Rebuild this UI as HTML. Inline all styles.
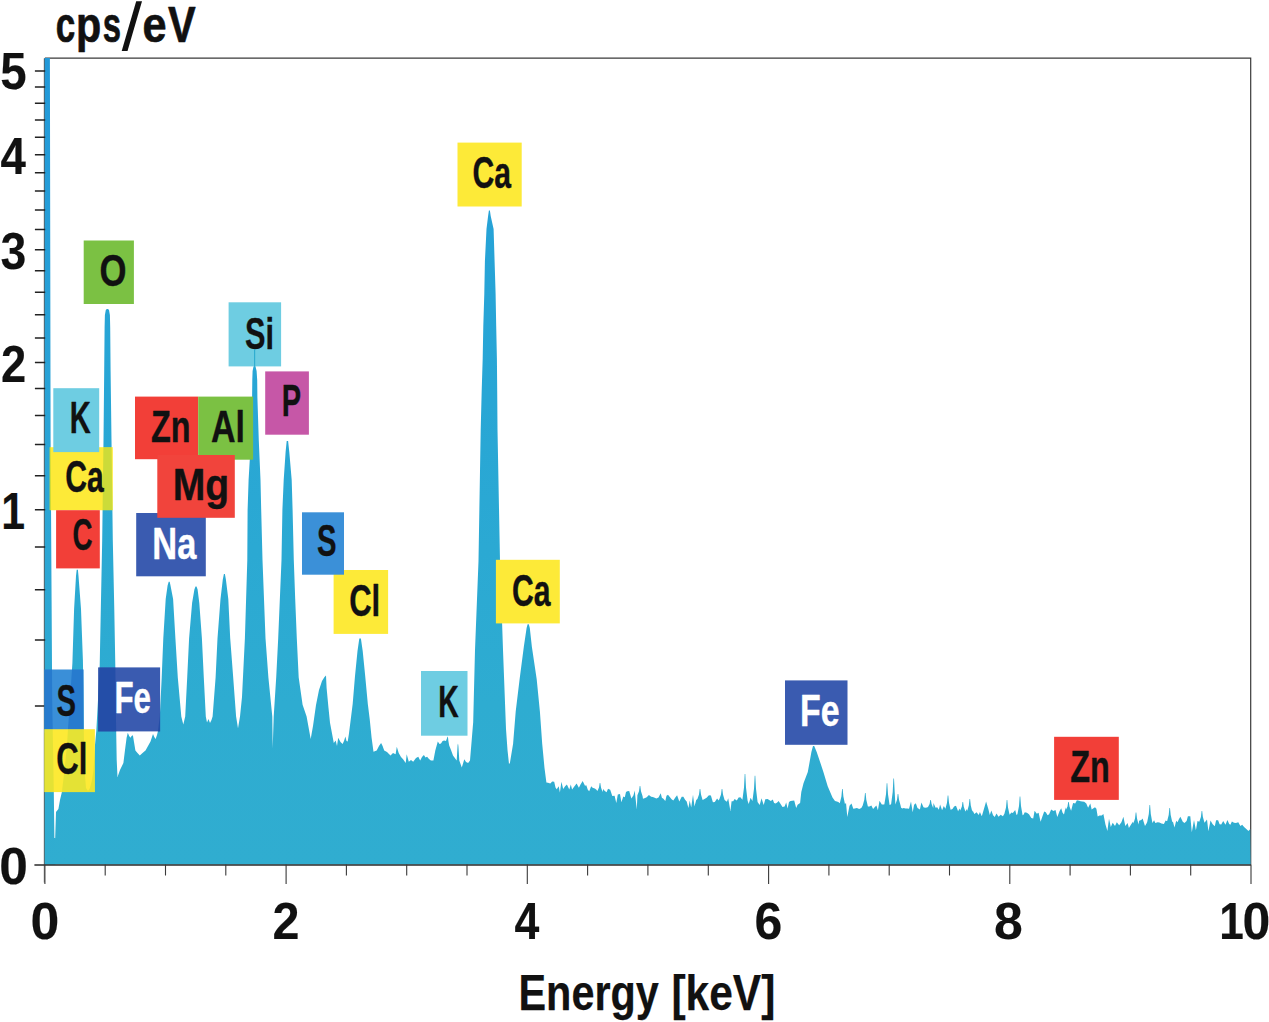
<!DOCTYPE html>
<html><head><meta charset="utf-8"><title>EDS spectrum</title>
<style>
html,body{margin:0;padding:0;background:#fff;}
body{width:1269px;height:1022px;overflow:hidden;font-family:"Liberation Sans",sans-serif;}
svg{display:block;font-family:"Liberation Sans",sans-serif;font-kerning:none;}
</style></head><body>
<svg width="1269" height="1022" viewBox="0 0 1269 1022">
<rect width="1269" height="1022" fill="#ffffff"/>
<defs><path id="spec" d="M44.9 864.6 L55.2 838.0 56.0 812.0 58.4 809.0 60.0 800.0 61.9 792.0 64.5 770.0 67.0 745.0 68.0 729.0 70.0 700.0 72.4 663.0 74.1 609.0 76.0 576.0 76.7 569.8 77.9 569.8 78.5 576.0 81.0 609.0 82.9 660.0 83.4 690.0 83.8 729.0 84.5 770.0 86.0 788.0 88.0 791.0 90.0 788.0 92.0 780.0 93.5 770.0 95.0 745.0 96.3 731.0 98.0 700.0 99.7 665.0 100.6 620.0 102.2 540.0 103.5 440.0 104.2 370.7 104.6 327.6 104.9 315.0 105.8 310.0 106.8 309.0 108.0 309.0 109.0 310.0 109.9 315.0 110.2 327.6 110.6 370.7 111.5 440.0 112.8 540.0 114.3 610.0 115.3 665.0 116.0 720.0 116.7 760.0 117.5 777.0 120.0 770.0 123.4 763.0 125.0 750.0 126.6 737.8 127.8 732.8 129.2 736.0 130.4 737.8 131.6 736.0 132.9 735.3 134.0 742.0 135.4 750.4 137.5 753.0 139.8 755.5 142.5 753.0 145.5 750.4 148.0 746.0 150.5 741.6 153.0 734.0 154.3 737.0 155.6 739.0 157.0 735.0 158.0 731.0 159.8 716.5 161.7 677.4 163.3 638.3 165.7 599.1 167.6 585.4 168.7 581.8 169.7 581.8 170.5 585.4 173.1 599.1 175.4 638.3 177.8 677.4 181.3 716.5 183.3 724.4 185.2 716.5 187.2 677.4 189.1 638.3 192.1 603.0 194.4 589.4 195.5 586.6 196.5 586.6 197.6 589.4 199.3 603.0 201.9 638.3 203.8 677.4 205.8 716.5 207.0 722.5 208.5 719.0 210.0 723.0 211.5 720.0 212.6 716.5 215.6 677.4 217.5 638.3 220.5 599.1 222.8 579.6 223.9 574.0 224.9 574.0 225.9 579.6 228.3 599.1 230.2 638.3 233.2 677.4 236.1 716.5 238.0 728.3 240.0 716.5 242.0 697.0 244.9 638.3 247.3 560.0 247.6 510.0 248.6 480.0 250.9 440.7 252.1 397.6 252.3 380.0 252.6 371.0 253.5 366.5 254.4 365.5 255.5 366.5 256.6 371.0 257.2 380.0 257.4 397.6 258.8 440.7 260.5 480.0 261.2 510.0 262.5 560.0 265.5 638.3 268.4 677.4 272.3 716.5 272.7 747.9 273.7 716.5 276.2 677.4 278.2 638.3 281.5 560.0 282.4 510.0 283.7 480.0 285.6 452.0 286.7 441.0 288.1 441.0 289.3 452.0 291.7 480.0 292.6 510.0 293.8 560.0 295.2 599.0 296.8 638.3 298.7 677.4 302.6 704.8 306.6 716.5 310.7 739.0 313.0 726.0 316.0 705.0 319.0 690.0 322.0 681.0 324.5 677.0 326.0 675.5 326.6 688.0 328.5 708.0 330.0 722.7 333.8 742.9 335.7 740.4 337.0 746.0 338.2 737.8 340.5 742.0 342.6 744.1 344.0 741.0 345.4 736.6 346.5 741.0 347.7 741.6 348.9 734.0 350.8 718.9 352.7 703.8 355.0 676.0 357.5 651.0 359.3 638.5 360.9 638.5 362.7 651.0 365.2 676.0 367.8 703.8 369.7 718.9 371.6 737.8 373.5 751.7 376.7 750.4 379.0 746.0 381.1 742.9 382.6 746.0 384.2 750.4 387.0 752.0 390.5 755.5 393.0 753.0 395.6 754.2 396.8 746.7 398.7 753.0 401.0 757.0 403.1 759.3 405.7 763.0 406.7 754.2 408.8 761.8 411.0 760.0 413.2 761.8 416.0 758.0 418.3 756.7 420.2 760.5 422.0 757.0 423.9 754.9 425.5 757.5 427.1 756.7 429.0 759.0 430.9 760.5 433.4 760.5 435.3 750.4 437.8 741.6 439.5 744.0 441.0 743.5 442.6 741.0 444.1 740.4 446.0 741.0 447.4 737.0 447.9 736.6 448.4 741.0 449.2 745.4 451.0 750.0 453.0 755.5 456.7 760.5 457.6 745.0 458.0 743.5 458.4 746.0 459.3 760.5 461.8 767.5 464.3 759.3 466.0 762.0 468.1 763.0 470.0 760.5 471.9 737.8 473.2 722.0 475.0 650.0 478.5 561.0 480.7 429.4 481.7 390.6 482.7 358.3 483.3 326.0 484.3 293.7 484.9 261.4 486.5 229.0 488.1 216.0 488.9 210.5 489.9 210.5 490.7 216.0 493.6 229.0 494.6 261.4 495.6 293.7 496.2 326.0 496.9 358.3 497.2 390.6 497.5 429.4 500.0 561.0 503.0 650.0 506.0 729.0 507.5 750.0 509.0 764.0 509.9 763.0 513.1 743.7 515.7 711.5 519.6 679.2 523.8 646.9 526.6 628.0 527.6 624.3 528.8 624.3 529.8 628.0 531.9 646.9 536.7 679.2 539.9 711.5 542.2 743.7 544.5 768.0 546.4 782.5 548.0 782.8 550.3 783.5 552.2 781.6 554.2 781.7 555.5 787.6 556.7 789.2 558.7 786.3 559.9 792.5 561.4 781.7 563.2 788.9 565.1 786.2 566.9 784.5 569.3 789.6 570.8 784.6 572.1 789.4 574.3 786.4 576.6 783.4 578.9 787.7 580.5 784.6 582.7 780.9 585.0 785.8 586.3 785.2 587.8 789.7 589.2 791.3 591.2 786.3 592.6 787.8 594.8 788.4 596.2 789.4 597.4 791.0 599.0 787.5 599.7 783.0 600.3 783.0 601.0 787.5 602.6 792.0 603.1 788.9 604.8 790.9 606.6 792.2 608.0 788.8 610.2 789.8 612.3 796.0 614.6 795.8 616.3 803.0 617.8 794.6 620.0 794.0 621.4 802.2 623.3 796.5 624.8 797.3 626.0 791.9 627.3 791.2 629.2 791.0 631.4 798.4 633.5 795.2 634.7 790.5 636.8 809.4 637.4 795.3 639.0 791.2 639.7 786.0 640.3 786.0 641.0 791.2 642.6 796.3 643.0 798.7 645.1 798.0 646.7 797.2 648.9 795.1 651.2 796.7 652.8 796.9 654.1 797.5 656.4 798.4 658.5 797.4 660.7 793.3 661.9 797.8 663.4 798.8 665.3 800.9 666.5 795.7 668.0 794.7 670.0 797.2 671.6 799.2 673.3 800.6 675.5 797.2 677.1 795.2 679.3 801.5 681.7 796.8 683.4 796.8 685.1 799.8 686.7 801.6 688.4 808.0 689.7 800.5 691.2 807.5 693.0 794.7 694.5 806.4 696.2 799.9 697.4 799.0 699.0 794.5 699.7 789.0 700.3 789.0 701.0 794.5 702.6 800.0 704.5 798.9 706.6 797.8 708.9 795.2 710.9 795.6 712.9 802.2 714.8 802.0 717.1 798.4 718.6 800.6 719.4 799.0 721.0 794.5 721.7 789.0 722.3 789.0 723.0 794.5 724.6 800.0 726.9 801.8 728.2 798.2 730.4 810.9 731.6 801.3 733.2 801.2 734.6 798.9 736.8 800.4 738.6 797.5 740.4 797.3 742.4 799.8 744.0 787.4 744.7 774.0 745.3 774.0 746.0 787.4 747.6 800.8 748.7 804.0 750.6 797.7 752.4 801.0 754.0 788.8 754.7 775.7 755.3 775.7 756.0 788.8 757.6 802.0 759.7 804.9 761.5 798.3 763.7 805.1 765.3 799.3 767.6 799.0 768.8 799.7 770.8 801.1 772.8 799.4 774.1 803.0 775.6 803.4 777.2 802.6 778.6 801.0 780.6 804.0 782.5 806.9 784.6 806.6 786.2 802.5 787.6 808.4 789.0 802.0 790.5 800.9 792.2 800.8 794.2 800.4 796.2 808.1 797.6 804.7 800.1 803.0 801.3 792.0 803.5 783.3 807.8 772.0 811.4 752.1 813.0 746.0 814.2 746.0 816.7 752.1 820.6 763.5 823.4 772.0 827.7 786.2 832.5 797.5 835.0 801.0 836.0 801.3 838.3 802.0 839.8 803.2 841.4 796.6 842.1 789.0 842.7 789.0 843.4 796.6 845.0 804.2 846.0 802.7 847.3 816.9 849.5 805.8 851.5 803.6 853.3 808.8 854.8 808.4 856.9 807.9 859.2 808.9 861.3 807.9 862.7 805.6 864.3 799.8 865.0 793.0 865.6 793.0 866.3 799.8 867.9 806.6 869.4 806.4 871.4 805.5 873.1 809.0 875.1 806.8 876.4 805.5 877.9 810.3 879.5 800.8 881.8 804.5 884.2 804.5 884.4 804.0 886.0 794.2 886.7 783.3 887.3 783.3 888.0 794.2 889.6 805.0 891.1 804.3 892.7 791.9 893.4 778.4 894.0 778.4 894.7 791.9 895.4 804.5 897.0 799.8 897.7 794.0 898.3 794.0 899.0 799.8 900.6 805.5 901.1 807.8 902.4 808.6 903.7 807.9 905.5 808.6 907.3 808.4 909.0 808.8 911.0 801.6 912.7 812.3 914.1 804.7 915.8 803.3 917.5 807.9 919.9 809.6 921.4 802.6 923.5 807.2 925.1 807.8 927.0 807.6 928.0 807.1 929.6 804.0 930.3 800.0 930.9 800.0 931.6 804.0 933.2 808.1 933.5 803.0 935.6 807.7 937.2 807.3 938.8 809.7 940.1 804.5 942.1 810.2 943.8 806.1 945.4 808.8 947.0 802.7 947.7 795.6 948.3 795.6 949.0 802.7 950.6 809.8 952.5 808.9 954.1 806.5 956.0 805.8 958.1 811.3 959.5 808.6 960.2 810.4 961.8 806.7 962.5 802.0 963.1 802.0 963.8 806.7 965.4 811.4 966.9 809.0 967.2 811.1 968.8 805.6 969.5 799.0 970.1 799.0 970.8 805.6 972.4 812.1 972.5 810.2 974.4 813.9 976.6 812.2 978.7 815.1 979.9 812.1 981.8 816.2 984.0 808.7 986.1 801.4 988.4 809.3 989.8 814.9 991.3 810.5 993.1 815.2 994.7 817.0 996.5 813.4 998.5 816.7 1000.7 814.7 1002.9 816.2 1004.4 813.8 1006.0 807.4 1006.7 800.0 1007.3 800.0 1008.0 807.4 1009.6 814.8 1011.4 812.6 1012.8 813.1 1015.2 810.1 1016.5 815.1 1017.4 814.2 1019.0 805.9 1019.7 796.5 1020.3 796.5 1021.0 805.9 1022.6 815.2 1023.3 814.9 1024.8 812.3 1026.9 812.7 1029.0 814.2 1031.3 817.9 1033.2 818.4 1034.6 810.7 1036.8 813.7 1038.6 812.8 1040.6 821.7 1042.2 817.1 1044.2 811.5 1045.8 812.2 1047.6 815.2 1049.1 814.2 1051.2 809.5 1053.4 810.9 1055.5 809.9 1057.3 817.1 1059.5 811.3 1061.2 808.2 1062.6 812.8 1064.0 814.6 1065.6 807.3 1065.9 809.8 1067.5 806.4 1068.2 802.0 1068.8 802.0 1069.5 806.4 1071.1 810.8 1073.1 802.9 1075.2 803.4 1076.9 800.3 1079.1 800.7 1080.6 801.3 1082.2 801.5 1084.2 801.8 1086.3 803.4 1088.1 807.7 1090.3 803.6 1091.7 809.6 1093.1 808.4 1095.0 807.3 1096.4 808.7 1097.7 816.5 1099.5 815.6 1101.7 815.4 1103.4 814.0 1105.4 824.2 1107.4 831.0 1109.0 818.7 1110.8 826.9 1112.7 822.7 1115.0 825.9 1116.8 822.3 1119.2 825.2 1121.4 822.3 1123.4 816.8 1125.3 826.1 1127.6 823.0 1128.9 828.1 1131.2 824.2 1133.1 821.6 1133.4 823.5 1135.0 818.5 1135.7 812.5 1136.3 812.5 1137.0 818.5 1138.6 824.5 1139.1 820.7 1141.3 820.0 1142.6 818.6 1145.0 826.0 1146.5 823.6 1147.2 822.0 1148.8 814.0 1149.5 805.0 1150.1 805.0 1150.8 814.0 1152.4 823.0 1154.1 820.2 1155.3 823.0 1157.7 822.3 1159.4 822.4 1161.5 823.4 1163.9 824.0 1165.6 820.5 1167.1 821.2 1168.7 815.1 1169.4 808.0 1170.0 808.0 1170.7 815.1 1172.3 822.2 1172.9 821.6 1174.5 827.6 1176.2 820.7 1177.5 822.3 1179.0 818.9 1180.4 816.8 1182.8 821.8 1184.5 822.9 1186.6 820.9 1187.9 816.2 1190.3 816.3 1191.8 832.3 1194.0 820.0 1195.9 830.3 1197.5 821.1 1199.3 821.8 1200.9 816.9 1201.6 811.0 1202.2 811.0 1202.9 816.9 1204.5 822.8 1207.0 819.4 1208.4 831.2 1210.5 820.6 1212.7 824.2 1214.8 826.3 1216.1 820.3 1218.1 820.2 1219.6 824.3 1221.2 824.4 1223.2 820.9 1225.5 824.8 1227.4 820.1 1229.2 823.9 1230.4 824.7 1231.9 821.5 1234.0 822.8 1235.9 822.9 1238.3 822.3 1240.4 826.0 1242.2 824.8 1244.1 826.9 1246.3 828.9 1248.5 831.0 1250.2 829.0 L1250.6 864.6 Z"/><path id="spk" d="M44.3 57.9 L49.9 57.9 L50.6 440 L51.6 600 L52.2 700 L53.8 792 L54.4 838 L55.3 838 L55.3 864.6 L44.3 864.6 Z"/><linearGradient id="fg" gradientUnits="userSpaceOnUse" x1="0" y1="58" x2="0" y2="865"><stop offset="0" stop-color="#249fd8"/><stop offset="0.42" stop-color="#28a6d5"/><stop offset="0.8" stop-color="#2eacd1"/><stop offset="1" stop-color="#30add0"/></linearGradient><linearGradient id="sg" x1="0" y1="0" x2="0" y2="1"><stop offset="0" stop-color="#2299d9"/><stop offset="0.45" stop-color="#29a3d6"/><stop offset="1" stop-color="#30add0"/></linearGradient></defs>
<path d="M44.9 58.199999999999996 H1250.7 V864.6" fill="none" stroke="#3a3a3a" stroke-width="1.2"/>
<use href="#spec" fill="url(#fg)"/>
<use href="#spk" fill="url(#sg)"/>
<path d="M34.4 865.0 H1251.0" fill="none" stroke="#2a2a2a" stroke-width="1.4"/>
<path d="M44.3 58.4 V882.6" fill="none" stroke="#333" stroke-width="1" opacity="0.7"/>
<path d="M34.9 705.9 H45.2 M34.9 640.1 H45.2 M34.9 589.7 H45.2 M34.9 547.1 H45.2 M34.9 509.7 H45.2 M34.9 475.8 H45.2 M34.9 444.6 H45.2 M34.9 415.6 H45.2 M34.9 388.4 H45.2 M34.9 362.6 H45.2 M34.9 338.1 H45.2 M34.9 314.7 H45.2 M34.9 292.3 H45.2 M34.9 270.7 H45.2 M34.9 249.8 H45.2 M34.9 229.6 H45.2 M34.9 210.1 H45.2 M34.9 191.1 H45.2 M34.9 172.7 H45.2 M34.9 154.7 H45.2 M34.9 137.2 H45.2 M34.9 120.1 H45.2 M34.9 103.3 H45.2 M34.9 86.9 H45.2 M34.9 70.9 H45.2" stroke="#222" stroke-width="1.5" fill="none"/>
<path d="M44.9 864.6 V884.1 M105.2 864.6 V875.6 M165.5 864.6 V875.6 M225.8 864.6 V875.6 M286.1 864.6 V884.1 M346.4 864.6 V875.6 M406.7 864.6 V875.6 M467.0 864.6 V875.6 M527.3 864.6 V884.1 M587.6 864.6 V875.6 M647.9 864.6 V875.6 M708.3 864.6 V875.6 M768.6 864.6 V884.1 M828.9 864.6 V875.6 M889.2 864.6 V875.6 M949.5 864.6 V875.6 M1009.8 864.6 V884.1 M1070.1 864.6 V875.6 M1130.4 864.6 V875.6 M1190.7 864.6 V875.6 M1251.0 864.6 V884.1" stroke="#3a3a3a" stroke-width="1.1" fill="none"/>
<text x="0.2" y="88.9" font-size="52.6" font-weight="bold" fill="#111" stroke="#111" stroke-width="0.15" stroke-linejoin="round" textLength="26.4" lengthAdjust="spacingAndGlyphs">5</text>
<text x="0.5" y="173.9" font-size="52.6" font-weight="bold" fill="#111" stroke="#111" stroke-width="0.15" stroke-linejoin="round" textLength="25.4" lengthAdjust="spacingAndGlyphs">4</text>
<text x="0.5" y="269.2" font-size="52.6" font-weight="bold" fill="#111" stroke="#111" stroke-width="0.15" stroke-linejoin="round" textLength="25.8" lengthAdjust="spacingAndGlyphs">3</text>
<text x="0.9" y="381.6" font-size="52.6" font-weight="bold" fill="#111" stroke="#111" stroke-width="0.15" stroke-linejoin="round" textLength="25.2" lengthAdjust="spacingAndGlyphs">2</text>
<text x="1.2" y="528.6" font-size="52.6" font-weight="bold" fill="#111" stroke="#111" stroke-width="0.15" stroke-linejoin="round" textLength="23.8" lengthAdjust="spacingAndGlyphs">1</text>
<text x="-0.8" y="883.9" font-size="52.6" font-weight="bold" fill="#111" stroke="#111" stroke-width="0.15" stroke-linejoin="round" textLength="28.6" lengthAdjust="spacingAndGlyphs">0</text>
<text x="30.5" y="939.4" font-size="52.6" font-weight="bold" fill="#111" stroke="#111" stroke-width="0.15" stroke-linejoin="round" textLength="28.8" lengthAdjust="spacingAndGlyphs">0</text>
<text x="272.5" y="939.4" font-size="52.6" font-weight="bold" fill="#111" stroke="#111" stroke-width="0.15" stroke-linejoin="round" textLength="27.0" lengthAdjust="spacingAndGlyphs">2</text>
<text x="514.5" y="939.4" font-size="52.6" font-weight="bold" fill="#111" stroke="#111" stroke-width="0.15" stroke-linejoin="round" textLength="24.8" lengthAdjust="spacingAndGlyphs">4</text>
<text x="754.5" y="939.4" font-size="52.6" font-weight="bold" fill="#111" stroke="#111" stroke-width="0.15" stroke-linejoin="round" textLength="27.8" lengthAdjust="spacingAndGlyphs">6</text>
<text x="993.9" y="939.4" font-size="52.6" font-weight="bold" fill="#111" stroke="#111" stroke-width="0.15" stroke-linejoin="round" textLength="28.8" lengthAdjust="spacingAndGlyphs">8</text>
<text x="1219.2" y="939.4" font-size="52.6" font-weight="bold" fill="#111" stroke="#111" stroke-width="0.15" stroke-linejoin="round" textLength="24.6" lengthAdjust="spacingAndGlyphs">1</text>
<text x="1242.5" y="939.4" font-size="52.6" font-weight="bold" fill="#111" stroke="#111" stroke-width="0.15" stroke-linejoin="round" textLength="27.8" lengthAdjust="spacingAndGlyphs">0</text>
<text x="55.8" y="41.7" font-size="50" font-weight="bold" fill="#111" stroke="#111" stroke-width="0.7" stroke-linejoin="round" textLength="19.5" lengthAdjust="spacingAndGlyphs">c</text>
<text x="76.0" y="41.7" font-size="50" font-weight="bold" fill="#111" stroke="#111" stroke-width="0.7" stroke-linejoin="round" textLength="25.2" lengthAdjust="spacingAndGlyphs">p</text>
<text x="102.7" y="41.7" font-size="50" font-weight="bold" fill="#111" stroke="#111" stroke-width="0.7" stroke-linejoin="round" textLength="18.3" lengthAdjust="spacingAndGlyphs">s</text>
<text x="142.5" y="41.7" font-size="50" font-weight="bold" fill="#111" stroke="#111" stroke-width="0.7" stroke-linejoin="round" textLength="24.1" lengthAdjust="spacingAndGlyphs">e</text>
<text x="167.9" y="41.7" font-size="50" font-weight="bold" fill="#111" stroke="#111" stroke-width="0.7" stroke-linejoin="round" textLength="27.7" lengthAdjust="spacingAndGlyphs">V</text>
<path d="M121.7 51 L127.5 51 L142.0 1.2 L136.2 1.2 Z" fill="#111"/>
<text x="518.5" y="1010.4" font-size="50" font-weight="bold" fill="#111" stroke="#111" stroke-width="0.25" stroke-linejoin="round" textLength="140.3" lengthAdjust="spacingAndGlyphs">Energy</text>
<text x="671.4" y="1010.4" font-size="50" font-weight="bold" fill="#111" stroke="#111" stroke-width="0.25" stroke-linejoin="round" textLength="104.0" lengthAdjust="spacingAndGlyphs">[keV]</text>
<rect x="333.6" y="570" width="54.5" height="63.9" fill="#fdea38"/>
<text x="349.2" y="616.0" font-size="44.5" font-weight="bold" fill="#111" stroke="#111" stroke-width="0.4" stroke-linejoin="round" textLength="31.0" lengthAdjust="spacingAndGlyphs">Cl</text>
<rect x="302" y="512.3" width="42.0" height="62.4" fill="#3b90d8"/>
<text x="317.1" y="556.3" font-size="44.5" font-weight="bold" fill="#111" stroke="#111" stroke-width="0.4" stroke-linejoin="round" textLength="19.5" lengthAdjust="spacingAndGlyphs">S</text>
<rect x="83.7" y="240.5" width="50.2" height="63.5" fill="#7bc143"/>
<text x="99.6" y="286.1" font-size="44.5" font-weight="bold" fill="#111" stroke="#111" stroke-width="0.4" stroke-linejoin="round" textLength="27.0" lengthAdjust="spacingAndGlyphs">O</text>
<rect x="228.6" y="302.3" width="52.5" height="64.1" fill="#6ecde2"/>
<text x="245.1" y="349.4" font-size="44.5" font-weight="bold" fill="#111" stroke="#111" stroke-width="0.4" stroke-linejoin="round" textLength="29.0" lengthAdjust="spacingAndGlyphs">Si</text>
<rect x="265.2" y="371.4" width="43.7" height="63.3" fill="#c657a7"/>
<text x="281.7" y="416.1" font-size="44.5" font-weight="bold" fill="#111" stroke="#111" stroke-width="0.4" stroke-linejoin="round" textLength="19.3" lengthAdjust="spacingAndGlyphs">P</text>
<rect x="49.7" y="447.2" width="63.1" height="63.0" fill="#fdea38"/>
<clipPath id="c5"><rect x="49.7" y="447.2" width="63.1" height="63.0"/></clipPath>
<g clip-path="url(#c5)" fill="#5fb83c" opacity="0.3"><use href="#spec"/><use href="#spk"/></g>
<text x="65.2" y="492.4" font-size="44.5" font-weight="bold" fill="#111" stroke="#111" stroke-width="0.4" stroke-linejoin="round" textLength="38.5" lengthAdjust="spacingAndGlyphs">Ca</text>
<rect x="53.3" y="388.2" width="45.9" height="63.9" fill="#6ecde2"/>
<text x="69.8" y="433.2" font-size="44.5" font-weight="bold" fill="#111" stroke="#111" stroke-width="0.4" stroke-linejoin="round" textLength="21.0" lengthAdjust="spacingAndGlyphs">K</text>
<rect x="56.1" y="510.2" width="43.7" height="58.2" fill="#f23f38"/>
<text x="72.5" y="550.2" font-size="44.5" font-weight="bold" fill="#111" stroke="#111" stroke-width="0.4" stroke-linejoin="round" textLength="20.0" lengthAdjust="spacingAndGlyphs">C</text>
<rect x="135" y="396.6" width="63.2" height="62.6" fill="#f23f38"/>
<text x="151.0" y="441.6" font-size="44.5" font-weight="bold" fill="#111" stroke="#111" stroke-width="0.4" stroke-linejoin="round" textLength="39.5" lengthAdjust="spacingAndGlyphs">Zn</text>
<rect x="198.2" y="396.6" width="54.9" height="63.1" fill="#7bc143"/>
<text x="210.9" y="442.1" font-size="44.5" font-weight="bold" fill="#111" stroke="#111" stroke-width="0.4" stroke-linejoin="round" textLength="34.0" lengthAdjust="spacingAndGlyphs">Al</text>
<rect x="136.2" y="513" width="69.6" height="63.3" fill="#3a5bb0"/>
<text x="152.3" y="558.6" font-size="44.5" font-weight="bold" fill="#fff" stroke="#fff" stroke-width="0.4" stroke-linejoin="round" textLength="44.0" lengthAdjust="spacingAndGlyphs">Na</text>
<rect x="157.3" y="455" width="77.5" height="62.8" fill="#f1443c"/>
<text x="172.7" y="499.9" font-size="44.5" font-weight="bold" fill="#111" stroke="#111" stroke-width="0.4" stroke-linejoin="round" textLength="56.5" lengthAdjust="spacingAndGlyphs">Mg</text>
<rect x="44.3" y="669.5" width="39.3" height="63.4" fill="#3b90d8"/>
<clipPath id="c12"><rect x="44.3" y="669.5" width="39.3" height="63.4"/></clipPath>
<g clip-path="url(#c12)" fill="#0c5fc0" opacity="0.42"><use href="#spec"/><use href="#spk"/></g>
<text x="56.6" y="715.7" font-size="44.5" font-weight="bold" fill="#111" stroke="#111" stroke-width="0.4" stroke-linejoin="round" textLength="19.5" lengthAdjust="spacingAndGlyphs">S</text>
<rect x="98.1" y="667.4" width="62.0" height="64.0" fill="#3a5bb0"/>
<clipPath id="c13"><rect x="98.1" y="667.4" width="62.0" height="64.0"/></clipPath>
<g clip-path="url(#c13)" fill="#0a3fa0" opacity="0.45"><use href="#spec"/><use href="#spk"/></g>
<text x="114.5" y="713.4" font-size="44.5" font-weight="bold" fill="#fff" stroke="#fff" stroke-width="0.4" stroke-linejoin="round" textLength="36.5" lengthAdjust="spacingAndGlyphs">Fe</text>
<rect x="44.3" y="729.2" width="50.6" height="62.9" fill="#fdea38"/>
<clipPath id="c14"><rect x="44.3" y="729.2" width="50.6" height="62.9"/></clipPath>
<g clip-path="url(#c14)" fill="#8fc92e" opacity="0.22"><use href="#spec"/><use href="#spk"/></g>
<text x="56.3" y="773.8" font-size="44.5" font-weight="bold" fill="#111" stroke="#111" stroke-width="0.4" stroke-linejoin="round" textLength="31.0" lengthAdjust="spacingAndGlyphs">Cl</text>
<rect x="421" y="671" width="46.5" height="64.7" fill="#6ecde2"/>
<text x="438.2" y="716.9" font-size="44.5" font-weight="bold" fill="#111" stroke="#111" stroke-width="0.4" stroke-linejoin="round" textLength="20.5" lengthAdjust="spacingAndGlyphs">K</text>
<rect x="457.5" y="142.6" width="64.2" height="63.9" fill="#fdea38"/>
<text x="472.4" y="187.8" font-size="44.5" font-weight="bold" fill="#111" stroke="#111" stroke-width="0.4" stroke-linejoin="round" textLength="38.5" lengthAdjust="spacingAndGlyphs">Ca</text>
<rect x="495.9" y="559.8" width="63.9" height="63.6" fill="#fdea38"/>
<text x="512.0" y="605.8" font-size="44.5" font-weight="bold" fill="#111" stroke="#111" stroke-width="0.4" stroke-linejoin="round" textLength="38.5" lengthAdjust="spacingAndGlyphs">Ca</text>
<rect x="785.0" y="680.4" width="62.5" height="64.4" fill="#3a5bb0"/>
<text x="800.0" y="726.1" font-size="44.5" font-weight="bold" fill="#fff" stroke="#fff" stroke-width="0.4" stroke-linejoin="round" textLength="39.5" lengthAdjust="spacingAndGlyphs">Fe</text>
<rect x="1054.1" y="736.8" width="64.7" height="63.1" fill="#f23f38"/>
<text x="1070.3" y="782.2" font-size="44.5" font-weight="bold" fill="#111" stroke="#111" stroke-width="0.4" stroke-linejoin="round" textLength="39.5" lengthAdjust="spacingAndGlyphs">Zn</text>
<path d="M254.6 349 V367" stroke="#30add0" stroke-width="1.2"/>
</svg>
</body></html>
